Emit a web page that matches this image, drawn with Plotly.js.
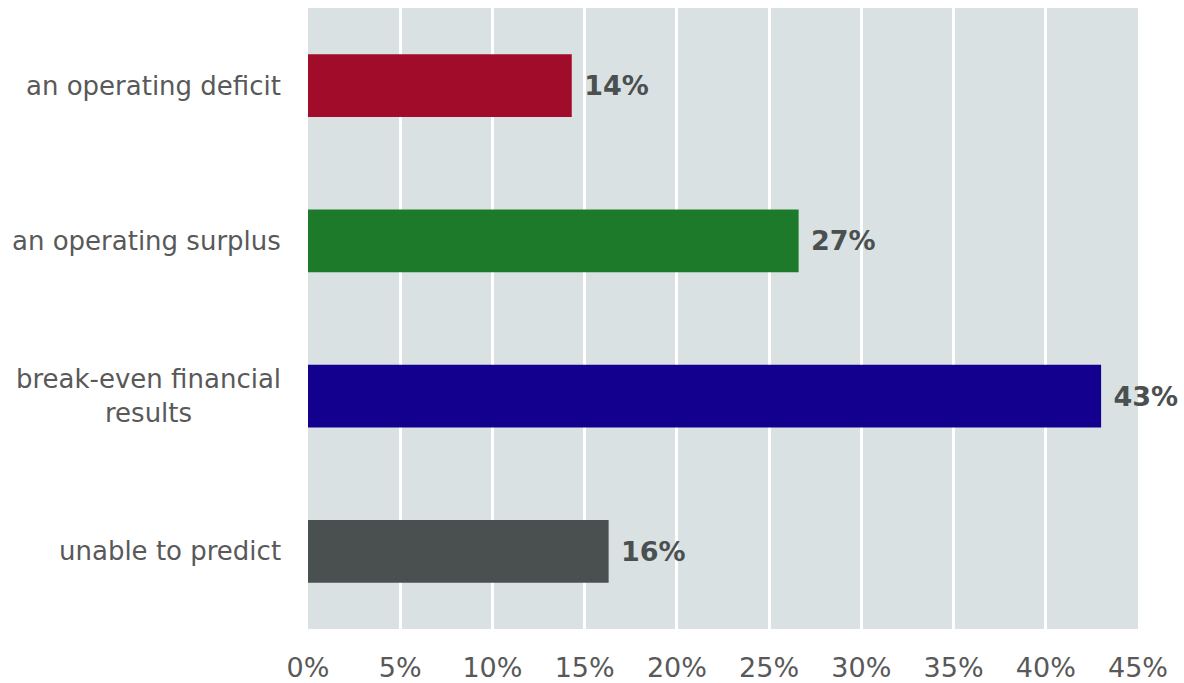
<!DOCTYPE html>
<html>
<head>
<meta charset="utf-8">
<script src="https://cdn.plot.ly/plotly-3.0.1.min.js"></script>
<style>html,body{margin:0;padding:0;background:#fff;}#chart{width:1184px;height:683px;}</style>
</head>
<body>
<div id="chart"></div>
<script>
const categories = ["an operating deficit", "an operating surplus", "break-even financial<br>results", "unable to predict"];
const values = [14.3, 26.6, 43.0, 16.3];
const valueLabels = ["14%", "27%", "43%", "16%"];
const barColors = ["#A00C2A", "#1E7A2B", "#14008E", "#4A5050"];
const tickValues = [0, 5, 10, 15, 20, 25, 30, 35, 40, 45];
const tickLabels = ["0%", "5%", "10%", "15%", "20%", "25%", "30%", "35%", "40%", "45%"];

const font = "DejaVu Sans, Verdana, sans-serif";

const trace = {
  type: "bar",
  orientation: "h",
  y: categories,
  x: values,
  marker: {color: barColors},
  width: 0.405,
  text: valueLabels,
  texttemplate: " %{text}",
  textposition: "outside",
  textfont: {family: font, size: 27, color: "#4A5050", weight: "bold"},
  cliponaxis: false,
  hoverinfo: "none"
};

const annotations = categories.map(c => ({
  x: 0, xref: "paper", y: c, yref: "y",
  xanchor: "right", yanchor: "middle", xshift: -25,
  text: c, showarrow: false, align: "center",
  font: {family: font, size: 26, color: "#595959"}
}));

const layout = {
  width: 1184, height: 683,
  margin: {l: 308, r: 46, t: 8, b: 54},
  paper_bgcolor: "#FFFFFF",
  plot_bgcolor: "#DAE1E3",
  showlegend: false,
  xaxis: {
    range: [0, 45],
    tickvals: tickValues,
    ticktext: tickLabels,
    showgrid: true, gridcolor: "#FFFFFF", gridwidth: 3,
    zeroline: false, showline: false,
    ticks: "outside", ticklen: 15, tickcolor: "rgba(0,0,0,0)",
    tickfont: {family: font, size: 27, color: "#595959"},
    fixedrange: true
  },
  yaxis: {
    type: "category",
    categoryorder: "array",
    categoryarray: categories,
    autorange: "reversed",
    showticklabels: false,
    showgrid: false, zeroline: false, showline: false,
    fixedrange: true
  },
  annotations: annotations,
  bargap: 0.6
};

Plotly.newPlot("chart", [trace], layout, {displayModeBar: false, staticPlot: true});
</script>
</body>
</html>
